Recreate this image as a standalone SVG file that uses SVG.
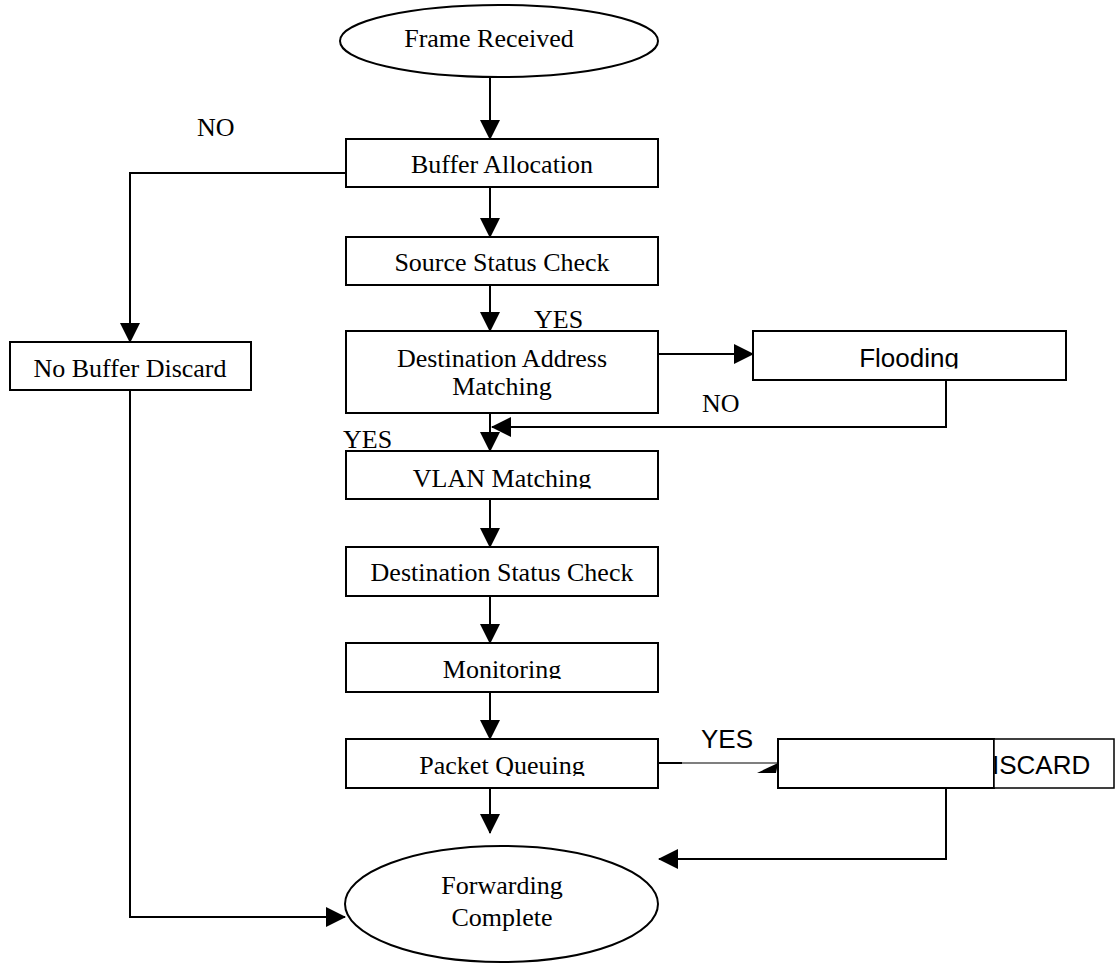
<svg xmlns="http://www.w3.org/2000/svg" width="1116" height="965" viewBox="0 0 1116 965">
<defs>
<style>
.box{fill:#fff;stroke:#000;stroke-width:2}
.thin{fill:#fff;stroke:#000;stroke-width:1.5}
.t{font-family:"Liberation Serif","Times New Roman",serif;font-size:26px;fill:#000}
.a{font-family:"Liberation Sans",Arial,sans-serif;font-size:26px;fill:#000}
.c{text-anchor:middle}
.ln{fill:none;stroke:#000;stroke-width:2}
</style>
<marker id="arr" markerUnits="userSpaceOnUse" markerWidth="20" markerHeight="20" refX="19" refY="10" orient="auto" viewBox="0 0 20 20">
<path d="M0,0 L20,10 L0,20 z" fill="#000"/>
</marker>
<clipPath id="cVlan"><rect x="346" y="451" width="312" height="37.5"/></clipPath>
<clipPath id="cMon"><rect x="346" y="643" width="312" height="36"/></clipPath>
<clipPath id="cPq"><rect x="346" y="739" width="312" height="37"/></clipPath>
<clipPath id="cFl"><rect x="753" y="331" width="313" height="37.5"/></clipPath>
<clipPath id="cDis"><rect x="994" y="739" width="120" height="49"/></clipPath>
</defs>
<rect width="1116" height="965" fill="#fff"/>

<g id="connectors">
<line class="ln" x1="490" y1="77" x2="490" y2="139" marker-end="url(#arr)"/>
<line class="ln" x1="490" y1="187" x2="490" y2="237" marker-end="url(#arr)"/>
<line class="ln" x1="490" y1="285" x2="490" y2="331" marker-end="url(#arr)"/>
<line class="ln" x1="490" y1="413" x2="490" y2="451" marker-end="url(#arr)"/>
<line class="ln" x1="490" y1="499" x2="490" y2="547" marker-end="url(#arr)"/>
<line class="ln" x1="490" y1="596" x2="490" y2="643" marker-end="url(#arr)"/>
<line class="ln" x1="490" y1="692" x2="490" y2="739" marker-end="url(#arr)"/>
<line class="ln" x1="490" y1="788" x2="490" y2="833" marker-end="url(#arr)"/>
<polyline class="ln" points="346,173 130,173 130,342" marker-end="url(#arr)"/>
<polyline class="ln" points="130,390 130,917 345,917" marker-end="url(#arr)"/>
<line class="ln" x1="658" y1="354" x2="753" y2="354" marker-end="url(#arr)"/>
<polyline class="ln" points="946,380 946,427 492,427" marker-end="url(#arr)"/>
<line class="ln" x1="658" y1="763" x2="682" y2="763"/>
<line x1="682" y1="763" x2="778" y2="763" stroke="#000" stroke-width="1.2"/>
<polygon points="757,773 778,763 776,773" fill="#000"/>
<polyline class="ln" points="946,788 946,859 659,859" marker-end="url(#arr)"/>
</g>

<g id="frame-received">
<ellipse class="box" cx="499" cy="41" rx="159" ry="36"/>
<text class="t c" x="489" y="47">Frame Received</text>
</g>
<g id="buffer-allocation">
<rect class="box" x="346" y="139" width="312" height="48"/>
<text class="t c" x="502" y="173">Buffer Allocation</text>
</g>
<g id="no-buffer-discard">
<rect class="box" x="10" y="342" width="241" height="48"/>
<text class="t c" x="130" y="377">No Buffer Discard</text>
</g>
<g id="source-status-check">
<rect class="box" x="346" y="237" width="312" height="48"/>
<text class="t c" x="502" y="271">Source Status Check</text>
</g>
<g id="destination-address-matching">
<rect class="box" x="346" y="331" width="312" height="82"/>
<text class="t c" x="502" y="367">Destination Address</text>
<text class="t c" x="502" y="395">Matching</text>
</g>
<g id="flooding">
<rect class="box" x="753" y="331" width="313" height="49"/>
<text class="a c" x="909" y="367" clip-path="url(#cFl)">Flooding</text>
</g>
<g id="vlan-matching">
<rect class="box" x="346" y="451" width="312" height="48"/>
<text class="t c" x="502" y="487" clip-path="url(#cVlan)">VLAN Matching</text>
</g>
<g id="destination-status-check">
<rect class="box" x="346" y="547" width="312" height="49"/>
<text class="t c" x="502" y="581">Destination Status Check</text>
</g>
<g id="monitoring">
<rect class="box" x="346" y="643" width="312" height="49"/>
<text class="t c" x="502" y="678" clip-path="url(#cMon)">Monitoring</text>
</g>
<g id="packet-queuing">
<rect class="box" x="346" y="739" width="312" height="49"/>
<text class="t c" x="502" y="774" clip-path="url(#cPq)">Packet Queuing</text>
</g>
<g id="discard">
<rect class="box" x="778" y="739" width="216" height="49"/>
<rect class="thin" x="994" y="739" width="120" height="49"/>
<text class="a" x="992" y="774" clip-path="url(#cDis)">ISCARD</text>
</g>
<g id="forwarding-complete">
<ellipse class="box" cx="501.5" cy="904" rx="156.5" ry="58"/>
<text class="t c" x="502" y="894">Forwarding</text>
<text class="t c" x="502" y="926">Complete</text>
</g>

<g id="labels">
<text class="t" x="197" y="136">NO</text>
<text class="t" x="534" y="328">YES</text>
<text class="t" x="702" y="412">NO</text>
<text class="t" x="343" y="448">YES</text>
<text class="a" x="701" y="748">YES</text>
</g>
</svg>
